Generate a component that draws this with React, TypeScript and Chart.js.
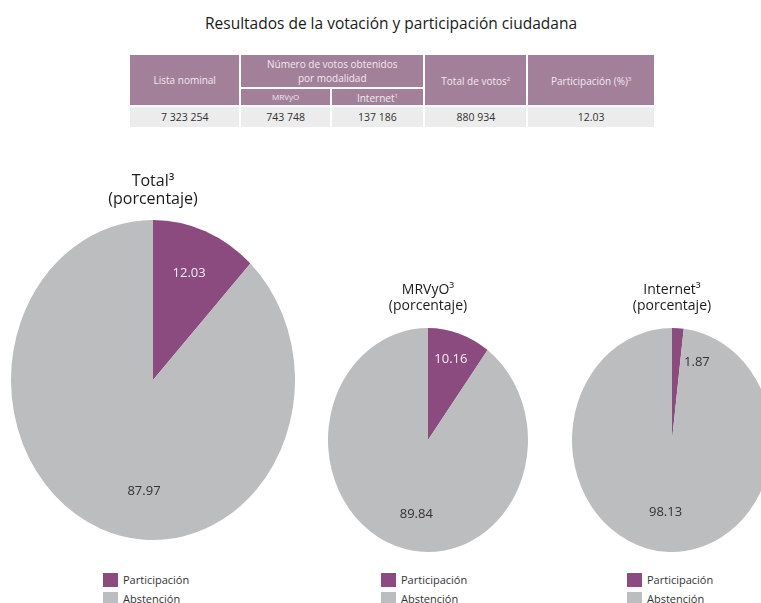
import React, { useEffect, useRef } from "react";
import { Chart, registerables } from "chart.js";
Chart.register(...registerables);

const PAGE_TITLE = "Resultados de la votación y participación ciudadana";
const tableHeaders = ["Lista nominal", "Número de votos obtenidos", "por modalidad", "Total de votos", "Participación (%)"];
const subHeaders = ["MRVyO", "Internet"];
const tableValues = ["7 323 254", "743 748", "137 186", "880 934", "12.03"];

const sliceLabels = ["Participación", "Abstención"];
const totalValues = [12.03, 87.97];
const mrvyoValues = [10.16, 89.84];
const internetValues = [1.87, 98.13];
const pieTitles = [["Total³", "(porcentaje)"], ["MRVyO³", "(porcentaje)"], ["Internet³", "(porcentaje)"]];

const PURPLE = "#8b4b7e";
const GRAY = "#bcbdbf";
const HEADER_BG = "#a2809a";
const FONT = "'Open Sans', 'Noto Sans', sans-serif";

type LabelPlace = { a: number; r: number; color: string };

type PieProps = {
  values: number[];
  title: string[];
  left: number;
  top: number;
  width: number;
  height: number;
  titleSize: number;
  titleLineHeight: number;
  padTop: number;
  padBottom: number;
  bottomPad: number;
  sy: number;
  labelPlace: LabelPlace[];
};

function PieChart(p: PieProps) {
  const ref = useRef<HTMLCanvasElement>(null);
  useEffect(() => {
    if (!ref.current) return;
    const sy = p.sy;
    const ellipse = {
      id: "ellipse",
      beforeDatasetsDraw(chart: any) {
        const a = chart.chartArea;
        const cx = (a.left + a.right) / 2;
        const cy = (a.top + a.bottom) / 2;
        const ctx = chart.ctx;
        ctx.save();
        ctx.translate(cx, cy);
        ctx.scale(1, sy);
        ctx.translate(-cx, -cy);
      },
      afterDatasetsDraw(chart: any) {
        const ctx = chart.ctx;
        ctx.restore();
        const meta = chart.getDatasetMeta(0);
        meta.data.forEach((arc: any, i: number) => {
          const pr = arc.getProps(["x", "y", "outerRadius"], true);
          const lp = p.labelPlace[i];
          const ang = (lp.a * Math.PI) / 180;
          const r = pr.outerRadius * lp.r;
          const x = pr.x + Math.sin(ang) * r;
          const y = pr.y - Math.cos(ang) * r * sy;
          ctx.save();
          ctx.font = `13px ${FONT}`;
          ctx.fillStyle = lp.color;
          ctx.textAlign = "center";
          ctx.textBaseline = "middle";
          ctx.fillText(p.values[i].toFixed(2), x, y);
          ctx.restore();
        });
      },
    };
    const chart = new Chart(ref.current, {
      type: "pie",
      data: {
        labels: sliceLabels,
        datasets: [
          {
            data: p.values,
            backgroundColor: [PURPLE, GRAY],
            borderWidth: 0,
            clip: false,
          } as any,
        ],
      },
      options: {
        animation: false,
        responsive: true,
        maintainAspectRatio: false,
        events: [],
        layout: { padding: { top: 0, left: 0, right: 0, bottom: p.bottomPad } },
        plugins: {
          legend: { display: false },
          tooltip: { enabled: false },
          title: {
            display: true,
            text: p.title,
            color: "#1a1a1a",
            font: { family: FONT, size: p.titleSize, weight: "normal", lineHeight: p.titleLineHeight },
            padding: { top: p.padTop, bottom: p.padBottom },
          },
        },
      },
      plugins: [ellipse],
    });
    return () => chart.destroy();
  }, []);
  return (
    <div style={{ position: "absolute", left: p.left, top: p.top, width: p.width, height: p.height }}>
      <canvas ref={ref} />
    </div>
  );
}

function Legend({ left, top }: { left: number; top: number }) {
  const colors = [PURPLE, GRAY];
  return (
    <div style={{ position: "absolute", left, top, fontFamily: FONT, fontSize: 11, color: "#333" }}>
      {sliceLabels.map((l, i) => (
        <div key={l} style={{ display: "flex", alignItems: "center", height: 19 }}>
          <span style={{ display: "inline-block", width: 15, height: 14, background: colors[i], marginRight: 5 }} />
          <span>{l}</span>
        </div>
      ))}
    </div>
  );
}

const th: React.CSSProperties = {
  background: HEADER_BG,
  color: "#f1e9ef",
  fontWeight: "normal",
  border: "2px solid #fff",
  padding: 0,
  textAlign: "center",
  lineHeight: "14px",
};
const td: React.CSSProperties = {
  background: "#ececec",
  color: "#333",
  border: "2px solid #fff",
  padding: 0,
  textAlign: "center",
  fontSize: 10.5,
};

function DataTable() {
  return (
    <table
      style={{
        position: "absolute",
        left: 128,
        top: 53,
        width: 528,
        borderCollapse: "collapse",
        tableLayout: "fixed",
        fontFamily: FONT,
        fontSize: 10,
      }}
    >
      <colgroup>
        <col style={{ width: 111 }} />
        <col style={{ width: 90 }} />
        <col style={{ width: 93 }} />
        <col style={{ width: 103 }} />
        <col style={{ width: 127 }} />
      </colgroup>
      <thead>
        <tr style={{ height: 34 }}>
          <th rowSpan={2} style={th}>{tableHeaders[0]}</th>
          <th colSpan={2} style={th}>
            {tableHeaders[1]}
            <br />
            {tableHeaders[2]}
          </th>
          <th rowSpan={2} style={th}>
            {tableHeaders[3]}
            <sup style={{ fontSize: 6 }}>2</sup>
          </th>
          <th rowSpan={2} style={th}>
            {tableHeaders[4]}
            <sup style={{ fontSize: 6 }}>3</sup>
          </th>
        </tr>
        <tr style={{ height: 18 }}>
          <th style={{ ...th, fontSize: 8 }}>{subHeaders[0]}</th>
          <th style={th}>
            {subHeaders[1]}
            <sup style={{ fontSize: 6 }}>1</sup>
          </th>
        </tr>
      </thead>
      <tbody>
        <tr style={{ height: 22 }}>
          {tableValues.map((v, i) => (
            <td key={i} style={td}>{v}</td>
          ))}
        </tr>
      </tbody>
    </table>
  );
}

export default function App() {
  return (
    <div
      style={{
        position: "absolute",
        left: 0,
        top: 0,
        width: 761,
        height: 603,
        overflow: "hidden",
        background: "#fff",
      }}
    >
      <div
        style={{
          position: "absolute",
          left: 0,
          width: 782,
          top: 12,
          textAlign: "center",
          fontFamily: FONT,
          fontSize: 15.5,
          color: "#1a1a1a",
        }}
      >
        {PAGE_TITLE}
      </div>
      <DataTable />
      <PieChart
        values={totalValues}
        title={pieTitles[0]}
        left={11}
        top={166}
        width={284}
        height={379}
        titleSize={16}
        titleLineHeight={18 / 16}
        padTop={6}
        padBottom={30}
        bottomPad={23}
        sy={160 / 142}
        labelPlace={[
          { a: 20.8, r: 0.716, color: "#f4ecf2" },
          { a: 185.2, r: 0.7, color: "#333" },
        ]}
      />
      <PieChart
        values={mrvyoValues}
        title={pieTitles[1]}
        left={328}
        top={276}
        width={200}
        height={279}
        titleSize={14}
        titleLineHeight={16 / 14}
        padTop={6}
        padBottom={26}
        bottomPad={15}
        sy={112 / 100}
        labelPlace={[
          { a: 17.5, r: 0.76, color: "#f4ecf2" },
          { a: 190, r: 0.675, color: "#333" },
        ]}
      />
      <PieChart
        values={internetValues}
        title={pieTitles[2]}
        left={572}
        top={276}
        width={200}
        height={279}
        titleSize={14}
        titleLineHeight={16 / 14}
        padTop={6}
        padBottom={26}
        bottomPad={15}
        sy={112 / 100}
        labelPlace={[
          { a: 19.7, r: 0.74, color: "#333" },
          { a: 185.7, r: 0.65, color: "#333" },
        ]}
      />
      <Legend left={103} top={570} />
      <Legend left={381} top={570} />
      <Legend left={627} top={570} />
    </div>
  );
}
